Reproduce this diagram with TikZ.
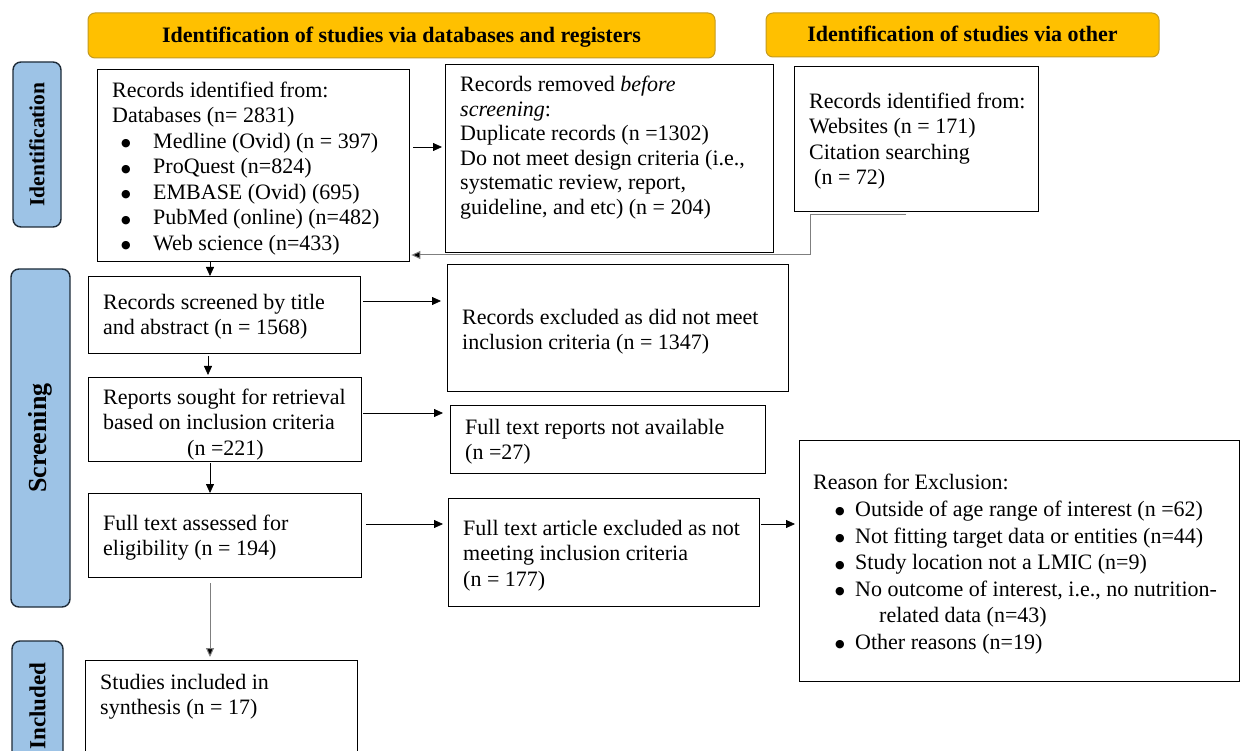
\documentclass[tikz,border=0pt]{standalone}
\usepackage{fontspec}
\setmainfont{Liberation Serif}
\newfontfamily\bulfont{DejaVu Sans}
\usetikzlibrary{arrows.meta,calc}
\definecolor{hdr}{HTML}{FFC000}
\definecolor{hdrline}{HTML}{C49A1E}
\definecolor{sidefill}{HTML}{9DC3E6}
\definecolor{sideline}{HTML}{1E2B38}
\definecolor{lgray}{HTML}{7F7F7F}
\newcommand\lns[1]{\begin{tabular}{@{}l@{}}#1\end{tabular}}
\newcommand\bigbul{\raisebox{1.5pt}{{\bulfont\fontsize{11}{11}\selectfont ●}}}
\newcommand\bl[1]{\hspace*{9pt}\makebox[32pt][l]{\bigbul}#1}
\newcommand\rb[1]{\hspace*{22pt}\makebox[20pt][l]{\bigbul}#1}
\begin{document}
\begin{tikzpicture}[x=1pt,y=-1pt,
  box/.style={draw=black, line width=1.4pt, anchor=north west, inner sep=0pt},
  txt/.style={anchor=north west, inner sep=0pt, font=\fontsize{22}{25.5}\selectfont},
  hdrbox/.style={draw=hdrline, fill=hdr, line width=1pt, rounded corners=7pt, font=\fontsize{22}{24}\selectfont\bfseries, inner sep=0pt, text height=16pt, text depth=2pt},
  sidebox/.style={draw=sideline, fill=sidefill, line width=1.4pt, rounded corners=8pt, rotate=90, inner sep=0pt},
  arr/.style={line width=0.8pt, -{Triangle[length=9pt,width=8pt]}},
  garr/.style={draw=lgray, line width=1pt, -{Triangle[length=9pt,width=8pt,fill=black]}}]
\useasboundingbox (0,0) rectangle (1240,751);
\fill[white] (0,0) rectangle (1240,751);

% headers
\node[hdrbox, minimum width=627pt, minimum height=45pt] (h1) at (401.5,35.5) {Identification of studies via databases and registers};
\node[hdrbox, minimum width=393pt, minimum height=44pt] (h2) at (962.5,35) {Identification of studies via other};

% side labels
\node[sidebox, minimum width=165pt, minimum height=48pt, font=\fontsize{21.5}{24}\selectfont\bfseries] (sid) at (37,144.5) {Identification};
\node[sidebox, minimum width=338pt, minimum height=59pt, font=\fontsize{26}{28}\selectfont\bfseries] (sscr) at (40.5,438) {Screening};
\node[sidebox, minimum width=130pt, minimum height=51pt, font=\fontsize{23}{26}\selectfont\bfseries] (sinc) at (37.5,706) {Included};

% boxes
\node[box, minimum width=312pt, minimum height=192pt] (rec) at (97,69) {};
\node[box, minimum width=328pt, minimum height=188pt] (removed) at (445,64) {};
\node[box, minimum width=244pt, minimum height=145pt] (other) at (794,66) {};
\node[box, minimum width=272pt, minimum height=77pt] (screened) at (88,276) {};
\node[box, minimum width=341pt, minimum height=127pt] (excl) at (447,264) {};
\node[box, minimum width=273pt, minimum height=84pt] (sought) at (88,377) {};
\node[box, minimum width=315pt, minimum height=68pt] (notav) at (450,405) {};
\node[box, minimum width=273pt, minimum height=84pt] (fulltext) at (88,493) {};
\node[box, minimum width=311pt, minimum height=108pt] (ftexcl) at (448,498) {};
\node[box, minimum width=440pt, minimum height=241pt] (reasons) at (799,440) {};
\node[box, minimum width=272pt, minimum height=130pt] (incl) at (85,660) {};

% texts
\node[txt] (recT) at (112,79) {\lns{Records identified from:\\ Databases (n= 2831)\\
 \bl{Medline (Ovid) (n = 397)}\\ \bl{ProQuest (n=824)}\\ \bl{EMBASE (Ovid) (695)}\\
 \bl{PubMed (online) (n=482)}\\ \bl{Web science (n=433)}}};
\node[txt, font=\fontsize{22}{24.6}\selectfont] (removedT) at (460,74) {\lns{Records removed \emph{before}\\ \emph{screening}:\\ Duplicate records (n =1302)\\
 Do not meet design criteria (i.e.,\\ systematic review, report,\\ guideline, and etc) (n = 204)}};
\node[txt] (otherT) at (809,90) {\lns{Records identified from:\\ Websites (n = 171)\\ Citation searching\\ \hspace*{5pt}(n = 72)}};
\node[txt] (screenedT) at (103,291) {\lns{Records screened by title\\ and abstract (n = 1568)}};
\node[txt] (exclT) at (462,306) {\lns{Records excluded as did not meet\\ inclusion criteria (n = 1347)}};
\node[txt] (soughtT) at (103,386) {\lns{Reports sought for retrieval\\ based on inclusion criteria\\ \hspace*{84pt}(n =221)}};
\node[txt] (notavT) at (465,416) {\lns{Full text reports not available\\ (n =27)}};
\node[txt] (fulltextT) at (103,512) {\lns{Full text assessed for\\ eligibility (n = 194)}};
\node[txt] (ftexclT) at (463,517) {\lns{Full text article excluded as not\\ meeting inclusion criteria\\ (n = 177)}};
\node[txt, font=\fontsize{22}{26.6}\selectfont] (reasonsT) at (813,471) {\lns{Reason for Exclusion:\\
 \rb{Outside of age range of interest (n =62)}\\ \rb{Not fitting target data or entities (n=44)}\\
 \rb{Study location not a LMIC (n=9)}\\ \rb{No outcome of interest, i.e., no nutrition-}\\
 \hspace*{66pt}related data (n=43)\\ \rb{Other reasons (n=19)}}};
\node[txt] (inclT) at (100,671) {\lns{Studies included in\\ synthesis (n = 17)}};

% connector helpers
\coordinate (r1) at (0,147);
\coordinate (r2) at (0,301);
\coordinate (r3) at (0,413);
\coordinate (r4) at (0,524);
\coordinate (c1) at (210,0);
\coordinate (c2) at (208,0);
\coordinate (oa) at (906,215);
\coordinate (ob) at (810,255);

% connectors
\draw[arr] ($(rec.east |- r1)+(3,0)$) -- ($(removed.west |- r1)+(-3,0)$);
\draw[garr] (oa) -- (oa -| ob) -- (ob) -- ($(rec.east |- ob)+(1,0)$);
\draw[arr] (rec.south -| c1) -- (screened.north -| c1);
\draw[arr] ($(screened.east |- r2)+(2,0)$) -- ($(excl.west |- r2)+(-6,0)$);
\draw[arr] ($(screened.south -| c2)+(0,2)$) -- ($(sought.north -| c2)+(0,-2)$);
\draw[arr] ($(sought.east |- r3)+(1,0)$) -- ($(notav.west |- r3)+(-7,0)$);
\draw[arr] ($(sought.south -| c1)+(0,1)$) -- (fulltext.north -| c1);
\draw[arr] ($(fulltext.east |- r4)+(4,0)$) -- ($(ftexcl.west |- r4)+(-5,0)$);
\draw[arr] ($(ftexcl.east |- r4)+(1,0)$) -- ($(reasons.west |- r4)+(-4,0)$);
\draw[garr] ($(fulltext.south -| c1)+(0,5)$) -- ($(incl.north -| c1)+(0,-3)$);
\end{tikzpicture}
\end{document}
